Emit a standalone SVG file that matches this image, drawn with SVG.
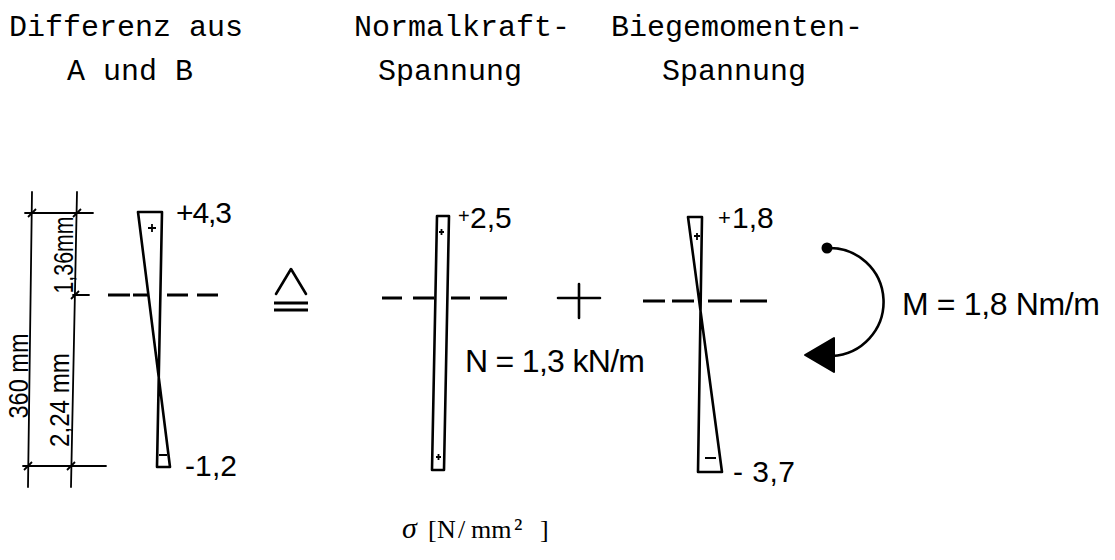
<svg xmlns="http://www.w3.org/2000/svg" width="1115" height="560" viewBox="0 0 1115 560">
<style>
.title{font-family:"Liberation Mono","Courier New",monospace;font-size:30px;fill:#000;text-anchor:middle}
.lbl{font-family:"Liberation Sans",Arial,sans-serif;font-size:30px;fill:#000}
.big{font-size:32px}
.dim{font-family:"Liberation Sans",Arial,sans-serif;font-size:27px;fill:#000;text-anchor:middle}
.ln{stroke:#000;stroke-width:2.6;fill:none;stroke-linecap:round;stroke-linejoin:round}
.thin{stroke:#000;stroke-width:1.8;fill:none;stroke-linecap:round}
.sm{stroke:#000;stroke-width:1.8;fill:none}
.dash{stroke:#000;stroke-width:3;fill:none}
.serif{font-family:"Liberation Serif","Times New Roman",serif;font-size:26px;fill:#000}
</style>
<rect width="1115" height="560" fill="#fff"/>
<g id="title-diff">
<text class="title" x="126" y="36">Differenz aus</text>
<text class="title" x="130" y="80" font-size="32">A und B</text>
</g>
<g id="title-normal">
<text class="title" x="462" y="36">Normalkraft-</text>
<text class="title" x="450" y="80">Spannung</text>
</g>
<g id="title-bending">
<text class="title" x="737" y="36">Biegemomenten-</text>
<text class="title" x="734" y="80">Spannung</text>
</g>
<g id="dimensions">
<path class="thin" d="M32 192 L28 487 M77 192 L71 487 M25 213 L93 213 M73 295 L89 295 M23 466 L106 466"/>
<path class="sm" d="M28 217 L36 209 M73 217 L81 209 M71 299 L79 291 M24 470 L32 462 M67 470 L75 462"/>
<text class="dim" transform="translate(28,376) rotate(-90)" textLength="85" lengthAdjust="spacingAndGlyphs">360 mm</text>
<text class="dim" transform="translate(73,255) rotate(-90)" textLength="77" lengthAdjust="spacingAndGlyphs">1,36mm</text>
<text class="dim" transform="translate(69,400) rotate(-90)" textLength="94" lengthAdjust="spacingAndGlyphs">2,24 mm</text>
</g>
<g id="diagram-diff">
<path class="ln" d="M138 212 L162 212 L157 467 L170 467 L138 212"/>
<path class="sm" d="M148 228 L156 228 M152 224 L152 232 M159 455 L167 455"/>
<path class="dash" d="M108 295 H130 M133 295 H148 M167 295 H188 M197 295 H218"/>
<text class="lbl" x="176" y="223" textLength="56">+4,3</text>
<text class="lbl" x="185" y="476" textLength="52">-1,2</text>
</g>
<g id="equiv">
<path class="ln" d="M276 294 L291 269 L306 294"/>
<path class="dash" d="M274 303 H308 M274 310 H308"/>
</g>
<g id="diagram-normal">
<path class="ln" d="M437 216 L449 216 L444 470 L432 470 Z"/>
<path class="sm" d="M439 232 L444 232 M441.5 229 L441.5 235 M436 457 L441 457 M438.5 454 L438.5 460"/>
<path class="dash" d="M382 298 H402 M413 298 H434 M451 298 H470 M480 298 H507"/>
<text class="lbl" x="458" y="228"><tspan font-size="20" dy="-5">+</tspan><tspan dy="5" x="470">2,5</tspan></text>
<text class="lbl big" x="465" y="372" textLength="180">N = 1,3 kN/m</text>
</g>
<g id="plus">
<path class="ln" d="M558 298 H600 M579 284 V318"/>
</g>
<g id="diagram-bending">
<path class="ln" d="M688 217 L702 217 L698 472 L722 472 L688 217"/>
<path class="sm" d="M694 236 L700 236 M697 233 L697 240 M705 458 L716 458"/>
<path class="dash" d="M643 301 H665 M672 301 H694 M708 301 H732 M740 301 H767"/>
<text class="lbl" x="718" y="228"><tspan font-size="22" dy="-3">+</tspan><tspan dy="3" x="732">1,8</tspan></text>
<text class="lbl" x="733" y="482" textLength="62">- 3,7</text>
</g>
<g id="connectors">
<g id="moment">
<circle cx="827" cy="248" r="5.5" fill="#000"/>
<path class="ln" d="M827 248 A54 54 0 1 1 832 356"/>
<polygon points="805,355 834,338 834,372" fill="#000" stroke="#000" stroke-width="2" stroke-linejoin="round"/>
</g>
</g>
<g id="moment-label">
<text class="lbl big" x="902" y="315" textLength="198">M = 1,8 Nm/m</text>
</g>
<g id="unit-label">
<text class="serif" y="538"><tspan x="402" font-style="italic" font-size="30">σ</tspan><tspan x="428">[</tspan><tspan x="437">N</tspan><tspan x="458">/</tspan><tspan x="471">mm</tspan><tspan x="514" font-size="28">²</tspan><tspan x="540">]</tspan></text>
</g>
</svg>
